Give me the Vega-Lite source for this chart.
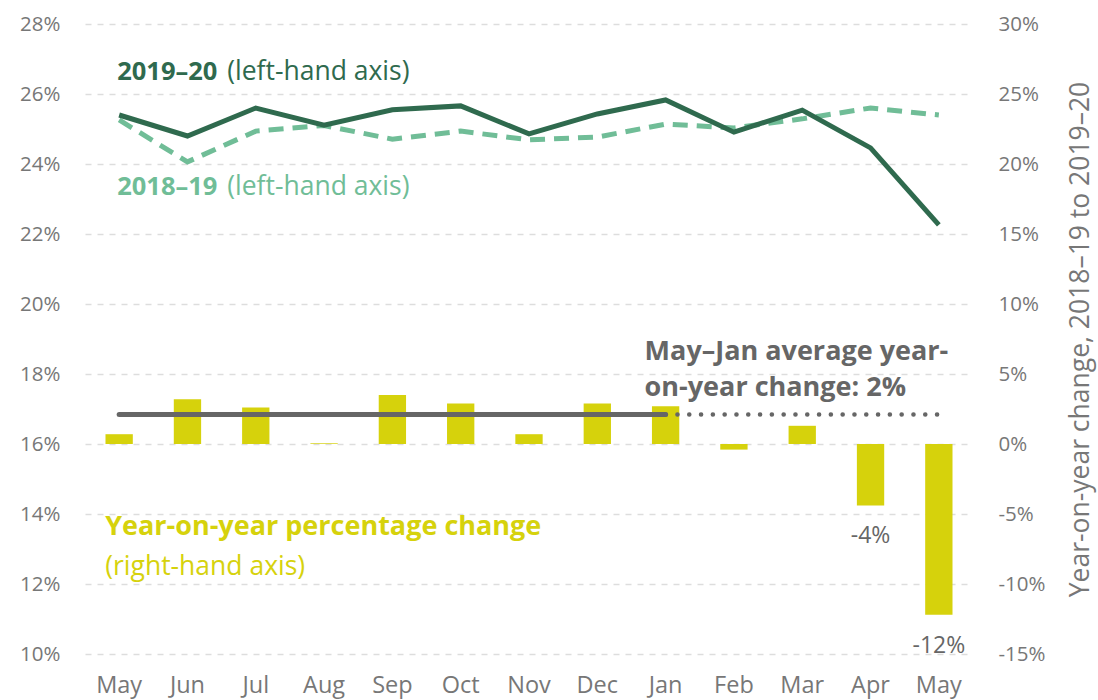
{
  "$schema": "https://vega.github.io/schema/vega-lite/v6.json",
  "width": 888,
  "height": 630,
  "autosize": {"type": "none"},
  "padding": {"left": 85, "top": 24, "right": 125, "bottom": 46},
  "background": "white",
  "config": {
    "font": "Open Sans",
    "view": {"stroke": null}
  },
  "datasets": {
    "main": [
      {"month": "May 2019", "y2019": 25.4, "y2018": 25.26, "yoy": 0.7},
      {"month": "Jun 2019", "y2019": 24.8, "y2018": 24.06, "yoy": 3.2},
      {"month": "Jul 2019", "y2019": 25.6, "y2018": 24.94, "yoy": 2.6},
      {"month": "Aug 2019", "y2019": 25.11, "y2018": 25.1, "yoy": 0.05},
      {"month": "Sep 2019", "y2019": 25.55, "y2018": 24.71, "yoy": 3.5},
      {"month": "Oct 2019", "y2019": 25.66, "y2018": 24.94, "yoy": 2.9},
      {"month": "Nov 2019", "y2019": 24.86, "y2018": 24.69, "yoy": 0.7},
      {"month": "Dec 2019", "y2019": 25.43, "y2018": 24.77, "yoy": 2.9},
      {"month": "Jan 2020", "y2019": 25.83, "y2018": 25.14, "yoy": 2.7},
      {"month": "Feb 2020", "y2019": 24.91, "y2018": 25.03, "yoy": -0.4},
      {"month": "Mar 2020", "y2019": 25.54, "y2018": 25.29, "yoy": 1.3},
      {"month": "Apr 2020", "y2019": 24.46, "y2018": 25.6, "yoy": -4.4},
      {"month": "May 2020", "y2019": 22.26, "y2018": 25.4, "yoy": -12.2}
    ]
  },
  "encoding": {
    "x": {
      "field": "month",
      "type": "ordinal",
      "sort": null,
      "scale": {"paddingInner": 0.6, "paddingOuter": 0.3},
      "axis": {
        "title": null,
        "labelExpr": "split(datum.label, ' ')[0]",
        "labelAngle": 0,
        "labelFontSize": 23.5,
        "labelColor": "#777777",
        "labelPadding": 19,
        "ticks": false,
        "domain": false
      }
    }
  },
  "layer": [
    {
      "layer": [
        {
          "data": {"name": "main"},
          "mark": {"type": "line", "color": "#70bd97", "strokeWidth": 5, "strokeDash": [15, 9]},
          "encoding": {
            "y": {
              "field": "y2018",
              "type": "quantitative",
              "scale": {"domain": [10, 28], "nice": false, "zero": false},
              "axis": {
                "title": null,
                "values": [10, 12, 14, 16, 18, 20, 22, 24, 26, 28],
                "labelExpr": "datum.value + '%'",
                "labelFontSize": 20.5,
                "labelColor": "#777777",
                "labelPadding": 25,
                "ticks": false,
                "domain": false,
                "grid": true,
                "gridColor": "#dddddd",
                "gridDash": [6, 6],
                "gridWidth": 1.5
              }
            }
          }
        },
        {
          "data": {"name": "main"},
          "mark": {"type": "line", "color": "#2f6a4e", "strokeWidth": 5},
          "encoding": {"y": {"field": "y2019", "type": "quantitative"}}
        },
        {
          "data": {"values": [
            {"month": "May 2019", "v": 26.63, "t": "2019–20", "c": "a"},
            {"month": "May 2019", "v": 23.34, "t": "2018–19", "c": "b"}
          ]},
          "mark": {"type": "text", "align": "left", "baseline": "middle", "fontSize": 25.5, "fontWeight": "bold", "dx": -2},
          "encoding": {
            "y": {"field": "v", "type": "quantitative"},
            "text": {"field": "t"},
            "color": {"field": "c", "type": "nominal", "scale": {"domain": ["a", "b"], "range": ["#2f6a4e", "#70bd97"]}, "legend": null}
          }
        },
        {
          "data": {"values": [
            {"month": "May 2019", "v": 26.63, "t": "(left-hand axis)", "c": "a"},
            {"month": "May 2019", "v": 23.34, "t": "(left-hand axis)", "c": "b"}
          ]},
          "mark": {"type": "text", "align": "left", "baseline": "middle", "fontSize": 26.5, "dx": 108},
          "encoding": {
            "y": {"field": "v", "type": "quantitative"},
            "text": {"field": "t"},
            "color": {"field": "c", "type": "nominal", "legend": null}
          }
        }
      ]
    },
    {
      "layer": [
        {
          "data": {"name": "main"},
          "mark": {"type": "bar", "color": "#d6d20c"},
          "encoding": {
            "y": {
              "field": "yoy",
              "type": "quantitative",
              "scale": {"domain": [-15, 30], "nice": false},
              "axis": {
                "orient": "right",
                "title": "Year-on-year change, 2018–19 to 2019–20",
                "titleFontSize": 26.5,
                "titleFontWeight": "normal",
                "titleColor": "#777777",
                "titleAngle": 270,
                "titleAlign": "center",
                "titleBaseline": "middle",
                "titleX": 107,
                "titleY": 315,
                "values": [-15, -10, -5, 0, 5, 10, 15, 20, 25, 30],
                "labelExpr": "datum.value + '%'",
                "labelFontSize": 20.5,
                "labelColor": "#777777",
                "labelPadding": 25,
                "ticks": false,
                "domain": false,
                "grid": false
              }
            }
          }
        },
        {
          "data": {"values": [
            {"month": "May 2019", "avg": 2.1},
            {"month": "Jan 2020", "avg": 2.1}
          ]},
          "mark": {"type": "line", "color": "#666666", "strokeWidth": 5, "strokeCap": "round"},
          "encoding": {"y": {"field": "avg", "type": "quantitative"}}
        },
        {
          "data": {"values": [
            {"month": "Jan 2020", "avg": 2.1},
            {"month": "May 2020", "avg": 2.1}
          ]},
          "mark": {"type": "line", "color": "#666666", "strokeWidth": 4.5, "strokeCap": "round", "strokeDash": [0.1, 11.7]},
          "encoding": {"y": {"field": "avg", "type": "quantitative"}}
        },
        {
          "data": {"values": [
            {"month": "Jan 2020", "v": 6.57, "t": "May–Jan average year-"},
            {"month": "Jan 2020", "v": 4.0, "t": "on-year change: 2%"}
          ]},
          "mark": {"type": "text", "align": "left", "baseline": "middle", "fontSize": 27, "fontWeight": "bold", "color": "#666666", "dx": -21},
          "encoding": {
            "y": {"field": "v", "type": "quantitative"},
            "text": {"field": "t"}
          }
        },
        {
          "data": {"values": [
            {"month": "May 2019", "v": -5.93, "t": "Year-on-year percentage change"}
          ]},
          "mark": {"type": "text", "align": "left", "baseline": "middle", "fontSize": 27, "fontWeight": "bold", "color": "#d6d20c", "dx": -14},
          "encoding": {
            "y": {"field": "v", "type": "quantitative"},
            "text": {"field": "t"}
          }
        },
        {
          "data": {"values": [
            {"month": "May 2019", "v": -8.79, "t": "(right-hand axis)"}
          ]},
          "mark": {"type": "text", "align": "left", "baseline": "middle", "fontSize": 26.5, "color": "#d6d20c", "dx": -14},
          "encoding": {
            "y": {"field": "v", "type": "quantitative"},
            "text": {"field": "t"}
          }
        },
        {
          "data": {"values": [
            {"month": "Apr 2020", "v": -6.57, "t": "-4%"},
            {"month": "May 2020", "v": -14.43, "t": "-12%"}
          ]},
          "mark": {"type": "text", "align": "center", "baseline": "middle", "fontSize": 23, "color": "#666666"},
          "encoding": {
            "y": {"field": "v", "type": "quantitative"},
            "text": {"field": "t"}
          }
        }
      ]
    }
  ],
  "resolve": {"scale": {"y": "independent", "color": "independent"}}
}
